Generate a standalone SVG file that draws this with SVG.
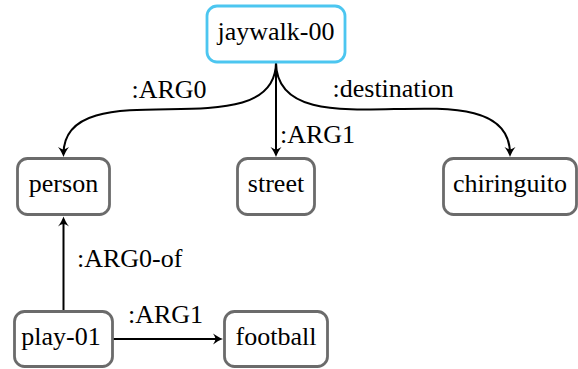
<svg xmlns="http://www.w3.org/2000/svg" width="578" height="369" viewBox="0 0 578 369">
<style>
  .box { fill: #ffffff; stroke: #6b6b6b; stroke-width: 2.8; }
  .root { fill: #ffffff; stroke: #4cc6f0; stroke-width: 2.8; }
  .lbl { font-family: 'Liberation Serif', 'Times New Roman', 'DejaVu Serif', serif; font-size: 26px; fill: #000; }
  .node text { text-anchor: middle; }
  .edge { fill: none; stroke: #000; stroke-width: 2; marker-end: url(#ah); }
</style>
<defs>
  <marker id="ah" viewBox="-12 -7 14 14" refX="-3" refY="0" markerWidth="14" markerHeight="14" markerUnits="userSpaceOnUse" orient="auto">
    <path d="M0,0 C-3.5,-1.2 -7,-3.3 -10,-5.5 C-8.3,-2.8 -7.6,-1.2 -7.6,0 C-7.6,1.2 -8.3,2.8 -10,5.5 C-7,3.3 -3.5,1.2 0,0 Z" fill="#000"/>
  </marker>
</defs>

<g id="connectors">
  <path class="edge" d="M276,62 C276,153 63.5,66 63.5,154"/>
  <path class="edge" d="M276,62 L276,154"/>
  <path class="edge" d="M276,62 C276,161 510,58 510,154"/>
  <path class="edge" d="M63.5,311 L63.5,219.5"/>
  <path class="edge" d="M112.5,339 L220,339"/>
  <text class="lbl" x="131.5" y="98">:ARG0</text>
  <text class="lbl" x="280" y="143">:ARG1</text>
  <text class="lbl" x="332.5" y="97">:destination</text>
  <text class="lbl" x="77" y="267">:ARG0-of</text>
  <text class="lbl" x="128" y="323">:ARG1</text>
</g>

<g id="node-jaywalk" class="node">
  <rect class="root" x="207" y="6" width="138" height="56" rx="10" ry="10"/>
  <text class="lbl" x="276" y="40">jaywalk-00</text>
</g>
<g id="node-person" class="node">
  <rect class="box" x="17.5" y="158.5" width="92" height="56" rx="10" ry="10"/>
  <text class="lbl" x="63.5" y="192">person</text>
</g>
<g id="node-street" class="node">
  <rect class="box" x="237.5" y="158.5" width="77" height="56" rx="10" ry="10"/>
  <text class="lbl" x="276" y="192">street</text>
</g>
<g id="node-chiringuito" class="node">
  <rect class="box" x="443.5" y="158.5" width="133" height="56" rx="10" ry="10"/>
  <text class="lbl" x="510" y="192">chiringuito</text>
</g>
<g id="node-play" class="node">
  <rect class="box" x="14.5" y="311.5" width="98" height="55" rx="10" ry="10"/>
  <text class="lbl" x="61" y="345">play-01</text>
</g>
<g id="node-football" class="node">
  <rect class="box" x="224.5" y="311.5" width="103" height="55" rx="10" ry="10"/>
  <text class="lbl" x="276" y="345">football</text>
</g>
</svg>
